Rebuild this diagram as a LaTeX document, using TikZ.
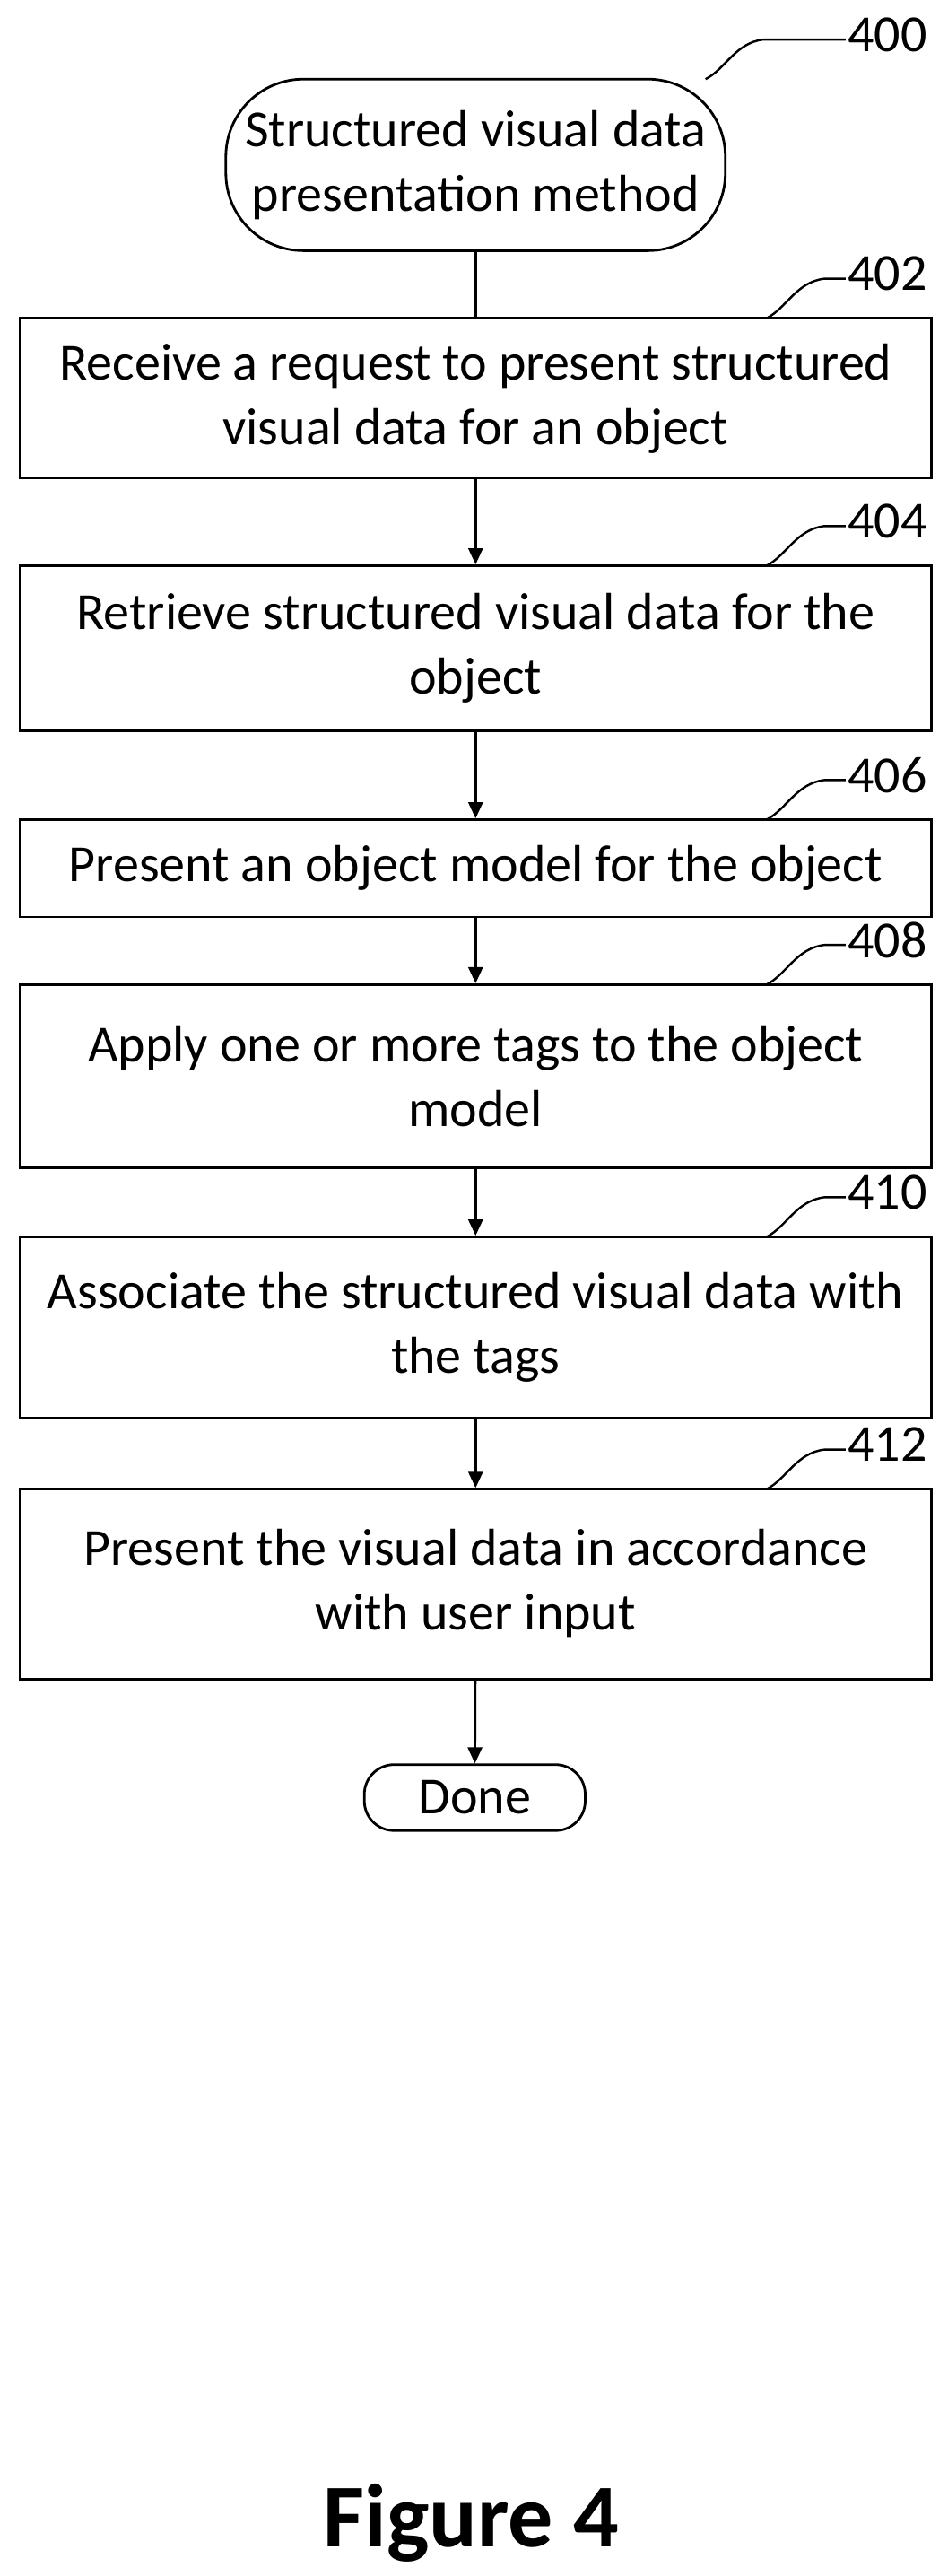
\documentclass[tikz,border=0pt]{standalone}
\usepackage{fontspec}
\setmainfont{Carlito}
\usetikzlibrary{arrows.meta}
\begin{document}
\begin{tikzpicture}[x=0.919pt,y=-0.919pt,
  every node/.style={font=\fontsize{29}{36}\selectfont},
  box/.style={draw, line width=1.4pt, inner sep=0pt, align=center, minimum width=553*0.919pt},
  flow/.style={line width=1.4pt, -{Triangle[length=9pt,width=8pt]}},
  lead/.style={line width=1.2pt}]
\useasboundingbox (0,0) rectangle (575,1562);
\node[box, rounded corners=47*0.919pt, minimum width=303*0.919pt, minimum height=104*0.919pt] (n400) at (288.5,100) {Structured visual data\\presentation method};
\node[box, minimum height=97*0.919pt] (n402) at (288.5,241.5) {Receive a request to present structured\\visual data for an object};
\node[box, minimum height=100*0.919pt] (n404) at (288.5,393) {Retrieve structured visual data for the\\object};
\node[box, minimum height=59*0.919pt] (n406) at (288.5,526.5) {Present an object model for the object};
\node[box, minimum height=111*0.919pt] (n408) at (288.5,652.5) {Apply one or more tags to the object\\model};
\node[box, minimum height=110*0.919pt] (n410) at (288.5,805) {Associate the structured visual data with\\the tags};
\node[box, minimum height=115*0.919pt] (n412) at (288.5,960.5) {Present the visual data in accordance\\with user input};
\node[box, rounded corners=18*0.919pt, minimum width=134*0.919pt, minimum height=40*0.919pt] (done) at (288,1090) {Done};
\draw[line width=1.4pt] (n400) -- (n402);
\draw[flow] (n402) -- (n404);
\draw[flow] (n404) -- (n406);
\draw[flow] (n406) -- (n408);
\draw[flow] (n408) -- (n410);
\draw[flow] (n410) -- (n412);
\draw[flow] (n412) -- (done);
% reference numerals
\foreach \lbl/\y/\x in {400/48/428,402/193/465,404/343/465,406/497/465,408/597/465,410/750/465,412/903/465}{
  \draw[lead] (\x,\y) .. controls (\x+12,\y-6) and (\x+18,\y-22) .. (\x+35,\y-24) -- (513,\y-24);
  \node[anchor=west, inner sep=2pt] (r\lbl) at (512,\y-27) {\lbl};
}
\node[font=\bfseries\fontsize{50}{60}\selectfont] (fig) at (286,1530) {Figure 4};
\end{tikzpicture}
\end{document}
